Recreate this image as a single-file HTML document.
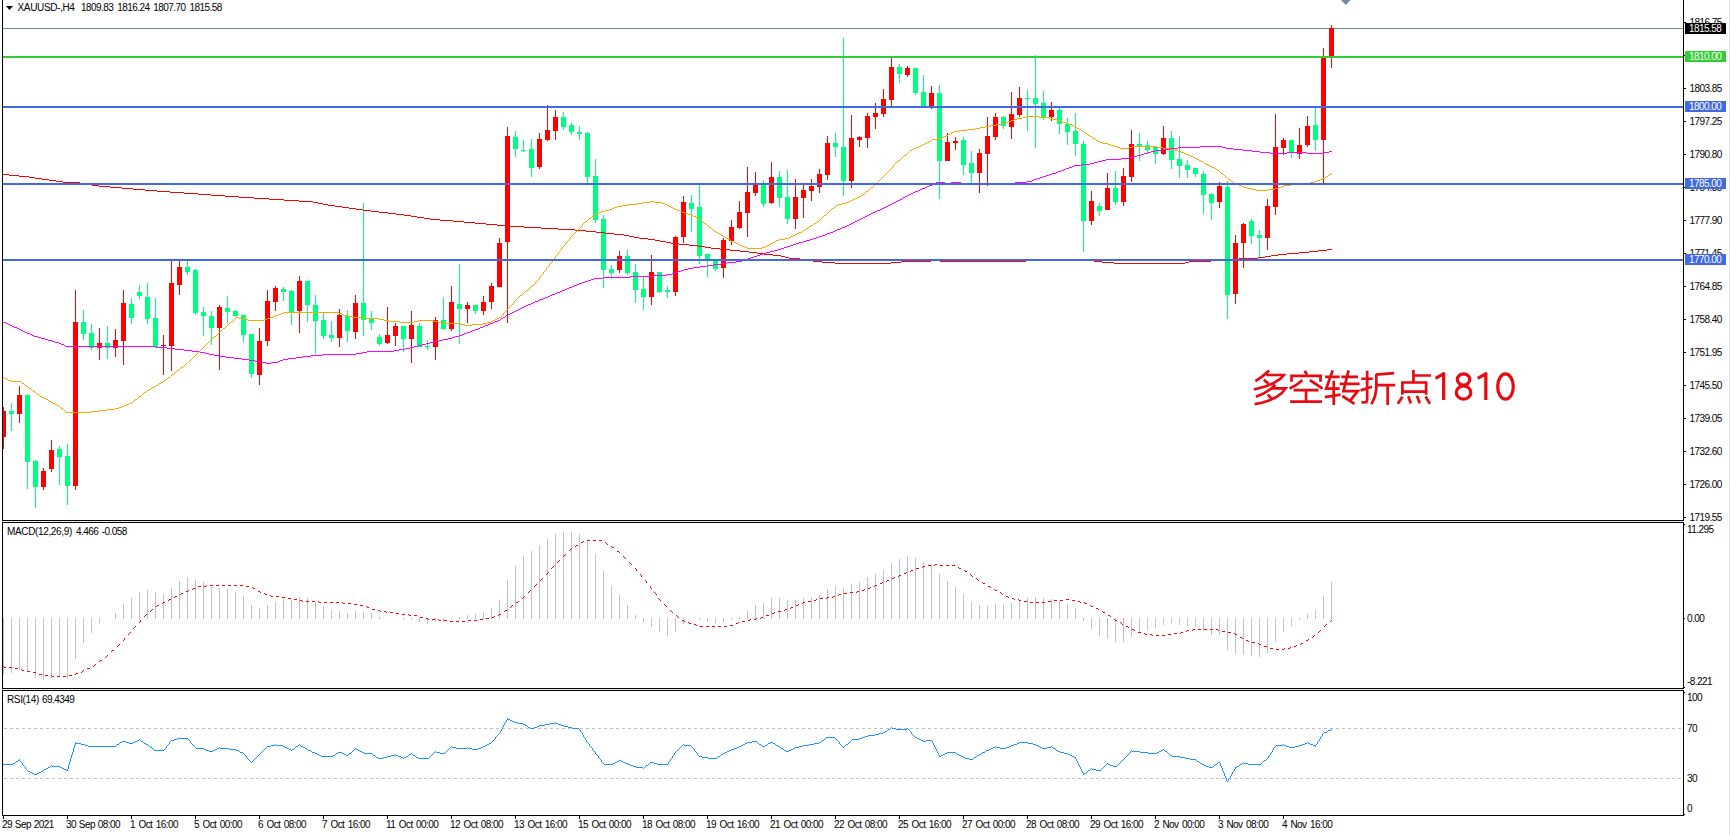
<!DOCTYPE html><html><head><meta charset="utf-8"><title>XAUUSD H4</title><style>
html,body{margin:0;padding:0;background:#fff;}body{width:1731px;height:835px;position:relative;overflow:hidden;font-family:"Liberation Sans",sans-serif;font-size:10px;letter-spacing:-0.55px;word-spacing:1.2px;color:#000;}
.t{position:absolute;white-space:nowrap;line-height:11px;height:11px;}
.lb{position:absolute;left:1685px;width:41px;height:11px;line-height:11px;color:#fff;white-space:nowrap;}
.lb span{position:absolute;left:4px;top:0;}
</style></head><body>
<svg width="1731" height="835" viewBox="0 0 1731 835" shape-rendering="crispEdges" style="position:absolute;left:0;top:0"><rect x="3" y="28" width="1680" height="1" fill="#778899"/><clipPath id="c"><rect x="3" y="0" width="1680" height="520"/></clipPath><g clip-path="url(#c)"><path d="M3 407h1v42h-1zM1 411h5v26h-5zM19 386h1v37h-1zM17 395h5v19h-5zM43 468h1v22h-1zM41 471h5v16h-5zM51 440h1v32h-1zM49 450h5v19h-5zM75 290h1v200h-1zM73 322h5v164h-5zM99 328h1v32h-1zM97 343h5v5h-5zM115 329h1v28h-1zM113 340h5v8h-5zM123 290h1v75h-1zM121 303h5v38h-5zM163 335h1v40h-1zM161 345h5v1h-5zM171 261h1v110h-1zM169 283h5v63h-5zM179 261h1v34h-1zM177 267h5v18h-5zM219 305h1v65h-1zM217 307h5v21h-5zM259 328h1v57h-1zM257 341h5v34h-5zM267 290h1v56h-1zM265 301h5v40h-5zM275 286h1v25h-1zM273 288h5v14h-5zM299 276h1v57h-1zM297 281h5v30h-5zM339 309h1v38h-1zM337 315h5v23h-5zM355 295h1v44h-1zM353 303h5v29h-5zM387 307h1v37h-1zM385 335h5v8h-5zM395 323h1v23h-1zM393 326h5v10h-5zM411 311h1v52h-1zM409 325h5v14h-5zM435 317h1v43h-1zM433 320h5v27h-5zM451 286h1v45h-1zM449 302h5v27h-5zM467 302h1v21h-1zM465 305h5v4h-5zM483 296h1v19h-1zM481 302h5v9h-5zM491 283h1v26h-1zM489 286h5v16h-5zM499 238h1v49h-1zM497 243h5v44h-5zM507 127h1v196h-1zM505 136h5v106h-5zM539 133h1v36h-1zM537 139h5v28h-5zM547 105h1v36h-1zM545 130h5v10h-5zM555 110h1v30h-1zM553 117h5v14h-5zM619 251h1v22h-1zM617 256h5v14h-5zM651 255h1v50h-1zM649 272h5v25h-5zM675 236h1v60h-1zM673 237h5v55h-5zM683 196h1v47h-1zM681 202h5v35h-5zM723 238h1v40h-1zM721 240h5v28h-5zM731 220h1v25h-1zM729 227h5v14h-5zM739 201h1v28h-1zM737 212h5v16h-5zM747 167h1v70h-1zM745 192h5v21h-5zM755 172h1v24h-1zM753 184h5v9h-5zM771 162h1v42h-1zM769 177h5v26h-5zM795 179h1v50h-1zM793 197h5v22h-5zM803 185h1v33h-1zM801 190h5v8h-5zM811 179h1v22h-1zM809 186h5v5h-5zM819 169h1v24h-1zM817 174h5v13h-5zM827 136h1v44h-1zM825 143h5v32h-5zM851 115h1v73h-1zM849 138h5v43h-5zM859 136h1v11h-1zM857 137h5v3h-5zM867 113h1v35h-1zM865 116h5v22h-5zM875 103h1v26h-1zM873 113h5v4h-5zM883 89h1v28h-1zM881 99h5v15h-5zM891 58h1v48h-1zM889 67h5v33h-5zM907 66h1v11h-1zM905 68h5v7h-5zM931 86h1v23h-1zM929 93h5v14h-5zM947 133h1v28h-1zM945 142h5v19h-5zM955 137h1v13h-1zM953 141h5v2h-5zM979 149h1v44h-1zM977 153h5v20h-5zM987 117h1v69h-1zM985 136h5v18h-5zM995 113h1v27h-1zM993 117h5v20h-5zM1011 92h1v47h-1zM1009 114h5v13h-5zM1019 87h1v30h-1zM1017 98h5v17h-5zM1051 102h1v19h-1zM1049 110h5v7h-5zM1091 191h1v34h-1zM1089 201h5v20h-5zM1107 173h1v37h-1zM1105 188h5v22h-5zM1123 168h1v38h-1zM1121 176h5v26h-5zM1131 130h1v52h-1zM1129 144h5v33h-5zM1163 126h1v29h-1zM1161 138h5v16h-5zM1219 182h1v26h-1zM1217 186h5v16h-5zM1235 235h1v69h-1zM1233 243h5v51h-5zM1243 223h1v45h-1zM1241 224h5v19h-5zM1267 199h1v51h-1zM1265 206h5v32h-5zM1275 114h1v101h-1zM1273 147h5v60h-5zM1283 138h1v17h-1zM1281 140h5v8h-5zM1299 128h1v31h-1zM1297 145h5v9h-5zM1307 116h1v31h-1zM1305 126h5v19h-5zM1323 48h1v135h-1zM1321 58h5v82h-5zM1331 25h1v43h-1zM1329 28h5v28h-5z" fill="#ff0000"/><path d="M11 403h1v28h-1zM9 411h5v3h-5zM27 395h1v94h-1zM25 395h5v67h-5zM35 460h1v48h-1zM33 461h5v26h-5zM59 446h1v39h-1zM57 449h5v8h-5zM67 444h1v61h-1zM65 456h5v30h-5zM83 310h1v30h-1zM81 322h5v12h-5zM91 324h1v26h-1zM89 333h5v15h-5zM107 326h1v33h-1zM105 343h5v5h-5zM131 298h1v26h-1zM129 304h5v14h-5zM139 285h1v14h-1zM137 292h5v4h-5zM147 283h1v41h-1zM145 297h5v22h-5zM155 298h1v50h-1zM153 318h5v29h-5zM187 261h1v14h-1zM185 267h5v5h-5zM195 269h1v46h-1zM193 270h5v43h-5zM203 307h1v29h-1zM201 312h5v4h-5zM211 311h1v34h-1zM209 316h5v12h-5zM227 296h1v27h-1zM225 308h5v4h-5zM235 310h1v7h-1zM233 311h5v5h-5zM243 315h1v27h-1zM241 315h5v20h-5zM251 334h1v44h-1zM249 334h5v40h-5zM283 287h1v14h-1zM281 289h5v3h-5zM291 290h1v35h-1zM289 291h5v21h-5zM307 281h1v41h-1zM305 281h5v24h-5zM315 295h1v59h-1zM313 305h5v16h-5zM323 312h1v27h-1zM321 320h5v16h-5zM331 321h1v21h-1zM329 335h5v3h-5zM347 310h1v32h-1zM345 316h5v15h-5zM363 203h1v133h-1zM361 303h5v17h-5zM371 311h1v19h-1zM369 319h5v4h-5zM379 334h1v12h-1zM377 337h5v7h-5zM403 326h1v26h-1zM401 326h5v13h-5zM419 323h1v24h-1zM417 326h5v21h-5zM427 340h1v10h-1zM425 346h5v1h-5zM443 298h1v32h-1zM441 320h5v9h-5zM459 264h1v80h-1zM457 304h5v5h-5zM475 305h1v9h-1zM473 305h5v6h-5zM515 131h1v26h-1zM513 137h5v12h-5zM523 140h1v12h-1zM521 150h5v1h-5zM531 139h1v38h-1zM529 149h5v19h-5zM563 112h1v18h-1zM561 117h5v10h-5zM571 123h1v12h-1zM569 125h5v7h-5zM579 126h1v14h-1zM577 132h5v2h-5zM587 132h1v51h-1zM585 133h5v44h-5zM595 159h1v64h-1zM593 176h5v44h-5zM603 215h1v73h-1zM601 219h5v51h-5zM611 265h1v14h-1zM609 269h5v4h-5zM627 250h1v25h-1zM625 256h5v17h-5zM635 264h1v39h-1zM633 272h5v18h-5zM643 277h1v33h-1zM641 289h5v8h-5zM659 272h1v21h-1zM657 272h5v20h-5zM667 286h1v12h-1zM665 290h5v2h-5zM691 195h1v37h-1zM689 203h5v6h-5zM699 185h1v79h-1zM697 207h5v49h-5zM707 254h1v23h-1zM705 254h5v7h-5zM715 259h1v12h-1zM713 260h5v9h-5zM763 180h1v27h-1zM761 184h5v20h-5zM779 171h1v36h-1zM777 177h5v21h-5zM787 170h1v54h-1zM785 197h5v22h-5zM835 133h1v24h-1zM833 143h5v4h-5zM843 38h1v158h-1zM841 147h5v34h-5zM899 64h1v19h-1zM897 67h5v7h-5zM915 68h1v27h-1zM913 68h5v25h-5zM923 75h1v32h-1zM921 92h5v14h-5zM939 85h1v114h-1zM937 93h5v68h-5zM963 137h1v38h-1zM961 140h5v25h-5zM971 151h1v32h-1zM969 163h5v10h-5zM1003 116h1v13h-1zM1001 117h5v9h-5zM1027 90h1v41h-1zM1025 98h5v1h-5zM1035 55h1v93h-1zM1033 98h5v6h-5zM1043 91h1v29h-1zM1041 103h5v15h-5zM1059 108h1v26h-1zM1057 110h5v14h-5zM1067 118h1v27h-1zM1065 124h5v8h-5zM1075 113h1v43h-1zM1073 131h5v13h-5zM1083 141h1v111h-1zM1081 144h5v77h-5zM1099 203h1v13h-1zM1097 206h5v5h-5zM1115 171h1v34h-1zM1113 188h5v14h-5zM1139 133h1v28h-1zM1137 144h5v3h-5zM1147 141h1v12h-1zM1145 145h5v5h-5zM1155 146h1v18h-1zM1153 147h5v7h-5zM1171 131h1v38h-1zM1169 138h5v22h-5zM1179 136h1v42h-1zM1177 159h5v7h-5zM1187 160h1v18h-1zM1185 165h5v5h-5zM1195 168h1v9h-1zM1193 168h5v6h-5zM1203 171h1v43h-1zM1201 174h5v21h-5zM1211 193h1v27h-1zM1209 194h5v9h-5zM1227 181h1v138h-1zM1225 187h5v108h-5zM1251 219h1v25h-1zM1249 221h5v15h-5zM1259 230h1v27h-1zM1257 235h5v3h-5zM1291 140h1v18h-1zM1289 140h5v12h-5zM1315 108h1v43h-1zM1313 125h5v15h-5z" fill="#00ff7f"/></g><path d="M269 199h15v1h-15zM813 261h9v1h-9zM901 261h30v1h-30zM940 261h86v1h-86zM1094 261h8v1h-8zM1189 261h22v1h-22zM835 263h56v1h-56zM1114 263h71v1h-71zM806 260h7v1h-7zM931 260h9v1h-9zM1026 260h68v1h-68zM1211 260h15v1h-15zM720 249h10v1h-10zM1327 249h5v1h-5zM605 233h9v1h-9zM507 226h17v1h-17zM417 217h7v1h-7zM157 191h13v1h-13zM764 254h9v1h-9zM1278 254h9v1h-9zM740 251h9v1h-9zM1309 251h9v1h-9zM110 187h12v1h-12zM63 182h17v1h-17zM586 231h10v1h-10zM453 221h11v1h-11zM773 255h8v1h-8zM1271 255h7v1h-7zM9 175h10v1h-10zM639 238h9v1h-9zM800 259h6v1h-6zM1226 259h13v1h-13zM486 224h11v1h-11zM689 245h9v1h-9zM335 206h7v1h-7zM42 179h7v1h-7zM225 196h14v1h-14zM757 253h7v1h-7zM1287 253h12v1h-12zM356 209h7v1h-7zM254 198h15v1h-15zM284 200h15v1h-15zM497 225h10v1h-10zM388 213h8v1h-8zM99 186h11v1h-11zM575 230h11v1h-11zM396 214h8v1h-8zM440 220h13v1h-13zM749 252h8v1h-8zM1299 252h10v1h-10zM328 205h7v1h-7zM424 218h6v1h-6zM313 202h5v1h-5zM211 195h14v1h-14zM558 229h17v1h-17zM711 248h9v1h-9zM596 232h9v1h-9zM198 194h13v1h-13zM648 239h7v1h-7zM3 174h6v1h-6zM133 189h12v1h-12zM822 262h13v1h-13zM891 262h10v1h-10zM1102 262h12v1h-12zM1185 262h4v1h-4zM239 197h15v1h-15zM145 190h12v1h-12zM411 216h6v1h-6zM299 201h14v1h-14zM705 247h6v1h-6zM541 228h17v1h-17zM349 208h7v1h-7zM634 237h5v1h-5zM430 219h10v1h-10zM184 193h14v1h-14zM730 250h10v1h-10zM1318 250h9v1h-9zM781 256h4v1h-4zM1265 256h6v1h-6zM789 258h11v1h-11zM1239 258h19v1h-19zM92 185h7v1h-7zM671 243h8v1h-8zM170 192h14v1h-14zM122 188h11v1h-11zM524 227h17v1h-17zM666 242h5v1h-5zM19 176h10v1h-10zM56 181h7v1h-7zM785 257h4v1h-4zM1258 257h7v1h-7zM624 235h5v1h-5zM323 204h5v1h-5zM464 222h11v1h-11zM371 211h8v1h-8zM80 183h6v1h-6zM404 215h7v1h-7zM475 223h11v1h-11zM342 207h7v1h-7zM86 184h6v1h-6zM614 234h10v1h-10zM660 241h6v1h-6zM49 180h7v1h-7zM363 210h8v1h-8zM679 244h10v1h-10zM35 178h7v1h-7zM318 203h5v1h-5zM379 212h9v1h-9zM655 240h5v1h-5zM698 246h7v1h-7zM29 177h6v1h-6zM629 236h5v1h-5z" fill="#ff0000"/><path d="M886 206h2v1h-2zM495 321h3v1h-3zM175 349h9v1h-9zM399 349h6v1h-6zM34 336h4v1h-4zM455 336h4v1h-4zM27 333h3v1h-3zM464 333h3v1h-3zM1027 181h5v1h-5zM934 183h2v1h-2zM945 183h6v1h-6zM961 183h54v1h-54zM882 208h2v1h-2zM6 323h2v1h-2zM490 323h3v1h-3zM192 351h8v1h-8zM367 351h27v1h-27zM32 335h2v1h-2zM459 335h3v1h-3zM1081 164h9v1h-9zM630 276h24v1h-24zM65 346h91v1h-91zM414 346h4v1h-4zM514 311h2v1h-2zM61 344h3v1h-3zM422 344h4v1h-4zM167 348h8v1h-8zM405 348h5v1h-5zM1178 147h22v1h-22zM1222 147h4v1h-4zM678 271h3v1h-3zM510 313h2v1h-2zM41 338h4v1h-4zM448 338h4v1h-4zM214 355h5v1h-5zM311 355h12v1h-12zM925 187h2v1h-2zM533 302h2v1h-2zM778 249h3v1h-3zM1106 159h15v1h-15zM1144 153h4v1h-4zM1270 153h17v1h-17zM1307 153h17v1h-17zM591 279h3v1h-3zM920 189h2v1h-2zM528 304h3v1h-3zM560 291h2v1h-2zM835 230h2v1h-2zM667 274h5v1h-5zM603 277h27v1h-27zM209 354h5v1h-5zM323 354h33v1h-33zM766 252h4v1h-4zM1094 162h4v1h-4zM693 267h7v1h-7zM205 353h4v1h-4zM356 353h6v1h-6zM855 221h2v1h-2zM1058 171h3v1h-3zM825 234h2v1h-2zM681 270h3v1h-3zM754 256h3v1h-3zM12 326h2v1h-2zM483 326h2v1h-2zM714 264h7v1h-7zM594 278h9v1h-9zM707 265h7v1h-7zM226 357h8v1h-8zM296 357h7v1h-7zM242 359h7v1h-7zM283 359h5v1h-5zM21 330h2v1h-2zM472 330h3v1h-3zM184 350h8v1h-8zM394 350h5v1h-5zM503 317h2v1h-2zM1151 151h4v1h-4zM1252 151h8v1h-8zM1329 151h3v1h-3zM1133 156h4v1h-4zM582 282h3v1h-3zM552 294h3v1h-3zM234 358h8v1h-8zM288 358h8v1h-8zM1155 150h7v1h-7zM1243 150h9v1h-9zM30 334h2v1h-2zM462 334h2v1h-2zM757 255h3v1h-3zM23 331h2v1h-2zM470 331h2v1h-2zM936 182h9v1h-9zM951 182h10v1h-10zM1015 182h12v1h-12zM260 362h6v1h-6zM271 362h7v1h-7zM156 347h11v1h-11zM410 347h4v1h-4zM1049 174h3v1h-3zM572 286h2v1h-2zM816 237h3v1h-3zM842 227h3v1h-3zM745 259h3v1h-3zM810 239h3v1h-3zM64 345h1v1h-1zM418 345h4v1h-4zM1037 178h3v1h-3zM1169 148h9v1h-9zM1226 148h7v1h-7zM727 262h9v1h-9zM799 242h4v1h-4zM1148 152h3v1h-3zM1260 152h10v1h-10zM1287 152h20v1h-20zM1324 152h5v1h-5zM574 285h3v1h-3zM929 185h3v1h-3zM538 300h2v1h-2zM569 287h3v1h-3zM845 226h2v1h-2zM255 361h5v1h-5zM278 361h2v1h-2zM863 217h2v1h-2zM1066 168h3v1h-3zM790 245h3v1h-3zM1069 167h3v1h-3zM52 341h3v1h-3zM434 341h5v1h-5zM700 266h7v1h-7zM851 223h2v1h-2zM1200 146h22v1h-22zM875 211h2v1h-2zM781 248h3v1h-3zM871 213h2v1h-2zM894 202h2v1h-2zM890 204h2v1h-2zM913 192h2v1h-2zM522 307h2v1h-2zM249 360h6v1h-6zM280 360h3v1h-3zM909 194h2v1h-2zM518 309h2v1h-2zM1121 158h8v1h-8zM548 296h2v1h-2zM822 235h3v1h-3zM219 356h7v1h-7zM303 356h8v1h-8zM14 327h3v1h-3zM480 327h3v1h-3zM8 324h2v1h-2zM488 324h2v1h-2zM266 363h5v1h-5zM742 260h3v1h-3zM55 342h4v1h-4zM430 342h4v1h-4zM1137 155h4v1h-4zM1034 179h3v1h-3zM501 318h2v1h-2zM540 299h3v1h-3zM813 238h3v1h-3zM1040 177h3v1h-3zM48 340h4v1h-4zM439 340h4v1h-4zM830 232h3v1h-3zM884 207h2v1h-2zM3 322h3v1h-3zM493 322h2v1h-2zM654 275h13v1h-13zM1090 163h4v1h-4zM903 197h2v1h-2zM512 312h2v1h-2zM675 272h3v1h-3zM200 352h5v1h-5zM362 352h5v1h-5zM774 250h4v1h-4zM562 290h3v1h-3zM588 280h3v1h-3zM918 190h2v1h-2zM557 292h3v1h-3zM833 231h2v1h-2zM763 253h3v1h-3zM688 268h5v1h-5zM59 343h2v1h-2zM426 343h4v1h-4zM853 222h2v1h-2zM1162 149h7v1h-7zM1233 149h10v1h-10zM1043 176h3v1h-3zM1141 154h3v1h-3zM38 337h3v1h-3zM452 337h3v1h-3zM579 283h3v1h-3zM1046 175h3v1h-3zM840 228h2v1h-2zM806 240h4v1h-4zM498 320h2v1h-2zM932 184h2v1h-2zM927 186h2v1h-2zM535 301h3v1h-3zM1102 160h4v1h-4zM45 339h3v1h-3zM443 339h5v1h-5zM1064 169h2v1h-2zM861 218h2v1h-2zM880 209h2v1h-2zM25 332h2v1h-2zM467 332h3v1h-3zM17 328h2v1h-2zM478 328h2v1h-2zM787 246h3v1h-3zM19 329h2v1h-2zM475 329h3v1h-3zM10 325h2v1h-2zM485 325h3v1h-3zM1074 165h7v1h-7zM900 199h2v1h-2zM508 314h2v1h-2zM1056 172h2v1h-2zM736 261h6v1h-6zM1129 157h4v1h-4zM888 205h2v1h-2zM550 295h2v1h-2zM819 236h3v1h-3zM577 284h2v1h-2zM516 310h2v1h-2zM796 243h3v1h-3zM567 288h2v1h-2zM684 269h4v1h-4zM877 210h3v1h-3zM896 201h2v1h-2zM506 315h2v1h-2zM585 281h3v1h-3zM915 191h3v1h-3zM524 306h2v1h-2zM760 254h3v1h-3zM898 200h2v1h-2zM869 214h2v1h-2zM545 297h3v1h-3zM907 195h2v1h-2zM751 257h3v1h-3zM1032 180h2v1h-2zM500 319h1v1h-1zM1098 161h4v1h-4zM793 244h3v1h-3zM565 289h2v1h-2zM859 219h2v1h-2zM784 247h3v1h-3zM555 293h2v1h-2zM1052 173h4v1h-4zM721 263h6v1h-6zM847 225h2v1h-2zM543 298h2v1h-2zM1072 166h2v1h-2zM837 229h3v1h-3zM770 251h4v1h-4zM526 305h2v1h-2zM827 233h3v1h-3zM672 273h3v1h-3zM867 215h2v1h-2zM849 224h2v1h-2zM905 196h2v1h-2zM748 258h3v1h-3zM531 303h2v1h-2zM857 220h2v1h-2zM902 198h1v1h-1zM865 216h2v1h-2zM922 188h3v1h-3zM505 316h1v1h-1zM892 203h2v1h-2zM1061 170h3v1h-3zM520 308h2v1h-2zM803 241h3v1h-3zM873 212h2v1h-2zM911 193h2v1h-2z" fill="#ff00ff"/><path d="M66 412h25v1h-25zM230 322h1v1h-1zM400 322h14v1h-14zM438 322h4v1h-4zM487 322h4v1h-4zM869 189h1v1h-1zM1252 189h4v1h-4zM1268 189h7v1h-7zM916 147h3v1h-3zM1117 147h3v1h-3zM1129 147h3v1h-3zM1157 147h6v1h-6zM643 202h7v1h-7zM655 202h7v1h-7zM846 202h3v1h-3zM990 125h6v1h-6zM1072 125h2v1h-2zM229 323h1v1h-1zM442 323h18v1h-18zM483 323h4v1h-4zM564 245h1v1h-1zM740 245h2v1h-2zM767 245h2v1h-2zM181 367h2v1h-2zM44 398h2v1h-2zM137 398h1v1h-1zM37 394h2v1h-2zM142 394h1v1h-1zM508 308h1v1h-1zM566 242h1v1h-1zM734 242h2v1h-2zM773 242h2v1h-2zM877 182h1v1h-1zM1233 182h1v1h-1zM1310 182h4v1h-4zM985 126h5v1h-5zM1074 126h2v1h-2zM46 399h2v1h-2zM135 399h2v1h-2zM51 402h2v1h-2zM132 402h1v1h-1zM1002 123h4v1h-4zM1066 123h3v1h-3zM11 381h10v1h-10zM163 381h1v1h-1zM278 314h3v1h-3zM342 314h2v1h-2zM503 314h1v1h-1zM234 319h1v1h-1zM243 319h5v1h-5zM264 319h3v1h-3zM379 319h5v1h-5zM495 319h2v1h-2zM65 411h1v1h-1zM91 411h8v1h-8zM236 317h3v1h-3zM270 317h3v1h-3zM352 317h13v1h-13zM499 317h2v1h-2zM612 208h2v1h-2zM673 208h2v1h-2zM832 208h2v1h-2zM195 355h1v1h-1zM628 204h9v1h-9zM665 204h2v1h-2zM838 204h4v1h-4zM582 224h1v1h-1zM706 224h1v1h-1zM813 224h1v1h-1zM4 378h3v1h-3zM167 378h1v1h-1zM870 188h1v1h-1zM1247 188h5v1h-5zM1275 188h3v1h-3zM581 226h1v1h-1zM708 226h1v1h-1zM809 226h2v1h-2zM63 409h1v1h-1zM107 409h8v1h-8zM925 143h2v1h-2zM1103 143h5v1h-5zM40 396h2v1h-2zM139 396h2v1h-2zM873 186h1v1h-1zM1241 186h3v1h-3zM1281 186h3v1h-3zM931 140h1v1h-1zM1096 140h2v1h-2zM855 198h2v1h-2zM569 239h1v1h-1zM728 239h2v1h-2zM779 239h6v1h-6zM878 181h1v1h-1zM1231 181h2v1h-2zM1314 181h3v1h-3zM33 391h2v1h-2zM146 391h1v1h-1zM572 235h1v1h-1zM721 235h2v1h-2zM793 235h2v1h-2zM202 348h1v1h-1zM901 158h1v1h-1zM1195 158h2v1h-2zM906 154h1v1h-1zM1186 154h3v1h-3zM281 313h3v1h-3zM339 313h3v1h-3zM503 313h1v1h-1zM1014 119h3v1h-3zM1053 119h4v1h-4zM909 151h1v1h-1zM1178 151h3v1h-3zM890 169h1v1h-1zM1216 169h2v1h-2zM518 297h1v1h-1zM1022 117h4v1h-4zM1039 117h10v1h-10zM235 318h1v1h-1zM239 318h4v1h-4zM267 318h3v1h-3zM365 318h14v1h-14zM497 318h2v1h-2zM513 303h1v1h-1zM553 259h1v1h-1zM959 130h8v1h-8zM1081 130h1v1h-1zM61 408h2v1h-2zM115 408h4v1h-4zM529 288h1v1h-1zM952 132h2v1h-2zM1084 132h1v1h-1zM1026 116h13v1h-13zM233 320h1v1h-1zM248 320h16v1h-16zM384 320h5v1h-5zM418 320h16v1h-16zM493 320h2v1h-2zM950 133h2v1h-2zM1085 133h2v1h-2zM55 404h2v1h-2zM127 404h2v1h-2zM28 387h1v1h-1zM152 387h2v1h-2zM589 218h2v1h-2zM698 218h1v1h-1zM821 218h1v1h-1zM284 312h55v1h-55zM504 312h1v1h-1zM29 388h2v1h-2zM151 388h1v1h-1zM561 248h1v1h-1zM747 248h15v1h-15zM587 220h1v1h-1zM701 220h1v1h-1zM819 220h1v1h-1zM57 405h2v1h-2zM124 405h3v1h-3zM556 255h1v1h-1zM541 275h1v1h-1zM216 335h1v1h-1zM273 316h2v1h-2zM348 316h4v1h-4zM501 316h1v1h-1zM912 149h2v1h-2zM1122 149h1v1h-1zM1169 149h6v1h-6zM904 155h2v1h-2zM1189 155h2v1h-2zM552 261h1v1h-1zM996 124h6v1h-6zM1069 124h3v1h-3zM880 179h1v1h-1zM1228 179h2v1h-2zM1320 179h3v1h-3zM862 194h2v1h-2zM565 244h1v1h-1zM738 244h2v1h-2zM769 244h2v1h-2zM49 401h2v1h-2zM133 401h1v1h-1zM42 397h2v1h-2zM138 397h1v1h-1zM584 222h2v1h-2zM703 222h1v1h-1zM816 222h1v1h-1zM567 241h1v1h-1zM731 241h3v1h-3zM775 241h1v1h-1zM967 129h8v1h-8zM1079 129h2v1h-2zM231 321h2v1h-2zM389 321h11v1h-11zM414 321h4v1h-4zM434 321h4v1h-4zM491 321h2v1h-2zM223 328h2v1h-2zM919 146h2v1h-2zM1114 146h3v1h-3zM1132 146h25v1h-25zM577 230h1v1h-1zM713 230h1v1h-1zM803 230h2v1h-2zM24 384h1v1h-1zM158 384h1v1h-1zM637 203h6v1h-6zM662 203h3v1h-3zM842 203h4v1h-4zM1006 122h2v1h-2zM1063 122h3v1h-3zM605 210h4v1h-4zM677 210h3v1h-3zM830 210h1v1h-1zM575 232h1v1h-1zM716 232h2v1h-2zM799 232h3v1h-3zM942 137h2v1h-2zM1092 137h1v1h-1zM1017 118h5v1h-5zM1049 118h4v1h-4zM871 187h2v1h-2zM1244 187h3v1h-3zM1278 187h3v1h-3zM614 207h3v1h-3zM671 207h2v1h-2zM834 207h1v1h-1zM64 410h1v1h-1zM99 410h8v1h-8zM570 238h1v1h-1zM726 238h2v1h-2zM785 238h4v1h-4zM932 139h7v1h-7zM1095 139h1v1h-1zM179 369h1v1h-1zM25 385h1v1h-1zM156 385h2v1h-2zM574 233h1v1h-1zM718 233h2v1h-2zM797 233h2v1h-2zM910 150h2v1h-2zM1175 150h3v1h-3zM597 213h2v1h-2zM685 213h3v1h-3zM827 213h1v1h-1zM228 324h1v1h-1zM460 324h5v1h-5zM472 324h11v1h-11zM884 175h1v1h-1zM1224 175h1v1h-1zM1328 175h1v1h-1zM594 215h1v1h-1zM691 215h2v1h-2zM824 215h2v1h-2zM944 136h2v1h-2zM1090 136h2v1h-2zM60 407h1v1h-1zM119 407h3v1h-3zM507 309h1v1h-1zM851 200h2v1h-2zM26 386h2v1h-2zM154 386h2v1h-2zM591 217h1v1h-1zM696 217h2v1h-2zM822 217h1v1h-1zM896 162h1v1h-1zM1203 162h1v1h-1zM595 214h2v1h-2zM688 214h3v1h-3zM826 214h1v1h-1zM868 190h1v1h-1zM1256 190h12v1h-12zM891 168h1v1h-1zM1214 168h2v1h-2zM519 296h1v1h-1zM227 325h1v1h-1zM465 325h7v1h-7zM194 356h1v1h-1zM875 184h1v1h-1zM1236 184h3v1h-3zM1291 184h9v1h-9zM7 379h1v1h-1zM166 379h1v1h-1zM565 243h1v1h-1zM736 243h2v1h-2zM771 243h2v1h-2zM526 290h2v1h-2zM48 400h1v1h-1zM134 400h1v1h-1zM546 268h1v1h-1zM921 145h2v1h-2zM1111 145h3v1h-3zM580 227h1v1h-1zM709 227h2v1h-2zM808 227h1v1h-1zM22 383h2v1h-2zM159 383h2v1h-2zM1011 120h3v1h-3zM1057 120h4v1h-4zM876 183h1v1h-1zM1234 183h2v1h-2zM1300 183h10v1h-10zM588 219h1v1h-1zM699 219h2v1h-2zM820 219h1v1h-1zM557 254h1v1h-1zM174 373h1v1h-1zM213 337h1v1h-1zM573 234h1v1h-1zM720 234h1v1h-1zM795 234h2v1h-2zM617 206h5v1h-5zM669 206h2v1h-2zM835 206h1v1h-1zM534 284h1v1h-1zM929 141h2v1h-2zM1098 141h2v1h-2zM859 196h2v1h-2zM927 142h2v1h-2zM1100 142h3v1h-3zM583 223h1v1h-1zM704 223h2v1h-2zM814 223h2v1h-2zM571 236h1v1h-1zM723 236h2v1h-2zM791 236h2v1h-2zM36 393h1v1h-1zM143 393h1v1h-1zM545 270h1v1h-1zM570 237h1v1h-1zM725 237h1v1h-1zM789 237h2v1h-2zM601 211h4v1h-4zM680 211h2v1h-2zM829 211h1v1h-1zM540 276h1v1h-1zM214 336h2v1h-2zM172 374h2v1h-2zM914 148h2v1h-2zM1120 148h2v1h-2zM1123 148h6v1h-6zM1163 148h6v1h-6zM532 285h2v1h-2zM609 209h3v1h-3zM675 209h2v1h-2zM831 209h1v1h-1zM275 315h3v1h-3zM344 315h4v1h-4zM502 315h1v1h-1zM948 134h2v1h-2zM1087 134h1v1h-1zM946 135h2v1h-2zM1088 135h2v1h-2zM31 389h1v1h-1zM149 389h2v1h-2zM592 216h2v1h-2zM693 216h3v1h-3zM823 216h1v1h-1zM578 229h1v1h-1zM712 229h1v1h-1zM805 229h1v1h-1zM32 390h1v1h-1zM147 390h2v1h-2zM586 221h1v1h-1zM702 221h1v1h-1zM817 221h2v1h-2zM885 174h1v1h-1zM1223 174h1v1h-1zM1329 174h2v1h-2zM39 395h1v1h-1zM141 395h1v1h-1zM582 225h1v1h-1zM707 225h1v1h-1zM811 225h2v1h-2zM53 403h2v1h-2zM129 403h3v1h-3zM568 240h1v1h-1zM730 240h1v1h-1zM776 240h3v1h-3zM954 131h5v1h-5zM1082 131h2v1h-2zM853 199h2v1h-2zM1008 121h3v1h-3zM1061 121h2v1h-2zM622 205h6v1h-6zM667 205h2v1h-2zM836 205h2v1h-2zM883 176h1v1h-1zM1225 176h1v1h-1zM1326 176h2v1h-2zM207 343h1v1h-1zM562 247h1v1h-1zM745 247h2v1h-2zM762 247h3v1h-3zM879 180h1v1h-1zM1230 180h1v1h-1zM1317 180h3v1h-3zM895 163h1v1h-1zM1204 163h2v1h-2zM975 128h5v1h-5zM1077 128h2v1h-2zM171 375h1v1h-1zM902 157h1v1h-1zM1193 157h2v1h-2zM550 263h1v1h-1zM205 345h1v1h-1zM939 138h3v1h-3zM1093 138h2v1h-2zM525 291h1v1h-1zM221 330h1v1h-1zM561 249h1v1h-1zM908 152h1v1h-1zM1181 152h3v1h-3zM599 212h2v1h-2zM682 212h3v1h-3zM828 212h1v1h-1zM538 279h1v1h-1zM650 201h5v1h-5zM849 201h2v1h-2zM549 265h1v1h-1zM544 271h1v1h-1zM177 370h2v1h-2zM866 191h2v1h-2zM188 362h1v1h-1zM874 185h1v1h-1zM1239 185h2v1h-2zM1284 185h7v1h-7zM888 171h1v1h-1zM1219 171h1v1h-1zM563 246h1v1h-1zM742 246h3v1h-3zM765 246h2v1h-2zM887 172h1v1h-1zM1220 172h1v1h-1zM980 127h5v1h-5zM1076 127h1v1h-1zM892 167h1v1h-1zM1212 167h2v1h-2zM505 311h1v1h-1zM889 170h1v1h-1zM1218 170h1v1h-1zM59 406h1v1h-1zM122 406h2v1h-2zM517 298h1v1h-1zM192 358h1v1h-1zM512 304h1v1h-1zM8 380h3v1h-3zM164 380h2v1h-2zM894 164h1v1h-1zM1206 164h2v1h-2zM882 177h1v1h-1zM1226 177h1v1h-1zM1325 177h1v1h-1zM898 160h2v1h-2zM1199 160h2v1h-2zM576 231h1v1h-1zM714 231h2v1h-2zM802 231h1v1h-1zM199 351h1v1h-1zM555 256h1v1h-1zM35 392h1v1h-1zM144 392h2v1h-2zM903 156h1v1h-1zM1191 156h2v1h-2zM206 344h1v1h-1zM546 269h1v1h-1zM579 228h1v1h-1zM711 228h1v1h-1zM806 228h2v1h-2zM543 272h1v1h-1zM170 376h1v1h-1zM554 258h1v1h-1zM549 264h1v1h-1zM530 287h1v1h-1zM220 331h1v1h-1zM537 280h1v1h-1zM881 178h1v1h-1zM1227 178h1v1h-1zM1323 178h2v1h-2zM193 357h1v1h-1zM21 382h1v1h-1zM161 382h2v1h-2zM893 165h1v1h-1zM1208 165h2v1h-2zM516 299h1v1h-1zM191 359h1v1h-1zM511 305h1v1h-1zM886 173h1v1h-1zM1221 173h2v1h-2zM1331 173h1v1h-1zM198 352h1v1h-1zM559 251h1v1h-1zM893 166h1v1h-1zM1210 166h2v1h-2zM558 253h1v1h-1zM923 144h2v1h-2zM1108 144h3v1h-3zM186 363h1v1h-1zM225 327h1v1h-1zM900 159h1v1h-1zM1197 159h2v1h-2zM184 365h1v1h-1zM510 306h1v1h-1zM200 350h1v1h-1zM204 346h1v1h-1zM524 292h1v1h-1zM555 257h1v1h-1zM211 339h1v1h-1zM3 377h1v1h-1zM168 377h2v1h-2zM531 286h1v1h-1zM543 273h1v1h-1zM558 252h1v1h-1zM535 282h1v1h-1zM907 153h1v1h-1zM1184 153h2v1h-2zM185 364h1v1h-1zM514 301h1v1h-1zM509 307h1v1h-1zM897 161h1v1h-1zM1201 161h2v1h-2zM560 250h1v1h-1zM196 354h1v1h-1zM861 195h1v1h-1zM857 197h2v1h-2zM203 347h1v1h-1zM523 293h1v1h-1zM176 371h1v1h-1zM219 332h1v1h-1zM865 192h1v1h-1zM210 340h1v1h-1zM536 281h1v1h-1zM226 326h1v1h-1zM542 274h1v1h-1zM217 334h1v1h-1zM539 277h1v1h-1zM515 300h1v1h-1zM190 360h1v1h-1zM522 294h1v1h-1zM197 353h1v1h-1zM212 338h1v1h-1zM209 341h1v1h-1zM520 295h2v1h-2zM552 260h1v1h-1zM547 267h1v1h-1zM528 289h1v1h-1zM175 372h1v1h-1zM218 333h1v1h-1zM535 283h1v1h-1zM864 193h1v1h-1zM183 366h1v1h-1zM222 329h1v1h-1zM514 302h1v1h-1zM189 361h1v1h-1zM201 349h1v1h-1zM506 310h1v1h-1zM208 342h1v1h-1zM548 266h1v1h-1zM551 262h1v1h-1zM180 368h1v1h-1zM539 278h1v1h-1z" fill="#ffa500"/><rect x="3" y="56" width="1680" height="2" fill="#32cd32"/><rect x="3" y="106" width="1680" height="2" fill="#4169e1"/><rect x="3" y="183" width="1680" height="2" fill="#4169e1"/><rect x="3" y="259" width="1680" height="2" fill="#4169e1"/><path d="M3 618h1v57h-1zM11 618h1v55h-1zM19 618h1v52h-1zM27 618h1v53h-1zM35 618h1v60h-1zM43 618h1v62h-1zM51 618h1v60h-1zM59 618h1v58h-1zM67 618h1v61h-1zM75 618h1v41h-1zM83 618h1v25h-1zM91 618h1v15h-1zM99 618h1v6h-1zM115 613h1v6h-1zM123 604h1v15h-1zM131 598h1v21h-1zM139 592h1v27h-1zM147 590h1v29h-1zM155 592h1v27h-1zM163 594h1v25h-1zM171 588h1v31h-1zM179 581h1v38h-1zM187 577h1v42h-1zM195 580h1v39h-1zM203 582h1v37h-1zM211 587h1v32h-1zM219 588h1v31h-1zM227 589h1v30h-1zM235 592h1v27h-1zM243 596h1v23h-1zM251 605h1v14h-1zM259 608h1v11h-1zM267 605h1v14h-1zM275 602h1v17h-1zM283 599h1v20h-1zM291 600h1v19h-1zM299 597h1v22h-1zM307 598h1v21h-1zM315 602h1v17h-1zM323 606h1v13h-1zM331 610h1v9h-1zM339 611h1v8h-1zM347 613h1v6h-1zM355 611h1v8h-1zM363 612h1v7h-1zM371 613h1v6h-1zM379 617h1v2h-1zM403 618h1v2h-1zM411 618h1v2h-1zM419 618h1v4h-1zM427 618h1v6h-1zM435 618h1v4h-1zM443 618h1v4h-1zM451 618h1v1h-1zM459 617h1v2h-1zM467 615h1v4h-1zM475 614h1v5h-1zM483 612h1v7h-1zM491 608h1v11h-1zM499 600h1v19h-1zM507 580h1v39h-1zM515 566h1v53h-1zM523 556h1v63h-1zM531 551h1v68h-1zM539 545h1v74h-1zM547 539h1v80h-1zM555 534h1v85h-1zM563 532h1v87h-1zM571 532h1v87h-1zM579 534h1v85h-1zM587 541h1v78h-1zM595 554h1v65h-1zM603 571h1v48h-1zM611 586h1v33h-1zM619 595h1v24h-1zM627 605h1v14h-1zM635 615h1v4h-1zM643 618h1v5h-1zM651 618h1v9h-1zM659 618h1v14h-1zM667 618h1v18h-1zM675 618h1v14h-1zM683 618h1v6h-1zM699 618h1v2h-1zM707 618h1v4h-1zM715 618h1v6h-1zM723 618h1v5h-1zM731 618h1v2h-1zM739 617h1v2h-1zM747 611h1v8h-1zM755 605h1v14h-1zM763 603h1v16h-1zM771 598h1v21h-1zM779 598h1v21h-1zM787 600h1v19h-1zM795 600h1v19h-1zM803 598h1v21h-1zM811 597h1v22h-1zM819 595h1v24h-1zM827 589h1v30h-1zM835 586h1v33h-1zM843 588h1v31h-1zM851 584h1v35h-1zM859 582h1v37h-1zM867 577h1v42h-1zM875 574h1v45h-1zM883 570h1v49h-1zM891 563h1v56h-1zM899 559h1v60h-1zM907 556h1v63h-1zM915 558h1v61h-1zM923 562h1v57h-1zM931 565h1v54h-1zM939 574h1v45h-1zM947 581h1v38h-1zM955 587h1v32h-1zM963 594h1v25h-1zM971 602h1v17h-1zM979 605h1v14h-1zM987 606h1v13h-1zM995 604h1v15h-1zM1003 604h1v15h-1zM1011 603h1v16h-1zM1019 600h1v19h-1zM1027 598h1v21h-1zM1035 597h1v22h-1zM1043 598h1v21h-1zM1051 599h1v20h-1zM1059 601h1v18h-1zM1067 604h1v15h-1zM1075 608h1v11h-1zM1083 618h1v3h-1zM1091 618h1v11h-1zM1099 618h1v18h-1zM1107 618h1v21h-1zM1115 618h1v24h-1zM1123 618h1v24h-1zM1131 618h1v19h-1zM1139 618h1v15h-1zM1147 618h1v12h-1zM1155 618h1v10h-1zM1163 618h1v7h-1zM1171 618h1v6h-1zM1179 618h1v7h-1zM1187 618h1v8h-1zM1195 618h1v9h-1zM1203 618h1v13h-1zM1211 618h1v17h-1zM1219 618h1v17h-1zM1227 618h1v32h-1zM1235 618h1v36h-1zM1243 618h1v37h-1zM1251 618h1v38h-1zM1259 618h1v39h-1zM1267 618h1v35h-1zM1275 618h1v24h-1zM1283 618h1v14h-1zM1291 618h1v8h-1zM1299 618h1v2h-1zM1307 614h1v5h-1zM1315 610h1v9h-1zM1323 596h1v23h-1zM1331 582h1v37h-1z" fill="#c0c0c0"/><path d="M630 563h1v1h-1zM169 599h2v1h-2zM294 599h3v1h-3zM659 599h1v1h-1zM816 599h1v1h-1zM1014 599h1v1h-1zM1018 599h1v1h-1zM1066 599h3v1h-3zM198 586h3v1h-3zM204 586h2v1h-2zM246 586h3v1h-3zM534 586h1v1h-1zM650 586h1v1h-1zM874 586h1v1h-1zM988 586h2v1h-2zM206 585h1v1h-1zM210 585h3v1h-3zM216 585h3v1h-3zM222 585h3v1h-3zM228 585h3v1h-3zM234 585h3v1h-3zM240 585h3v1h-3zM535 585h1v1h-1zM875 585h2v1h-2zM587 540h3v1h-3zM593 540h3v1h-3zM599 540h3v1h-3zM386 612h1v1h-1zM390 612h3v1h-3zM672 612h1v1h-1zM774 612h1v1h-1zM1103 612h2v1h-2zM928 565h3v1h-3zM934 565h1v1h-1zM940 565h3v1h-3zM946 565h3v1h-3zM952 565h3v1h-3zM1270 648h3v1h-3zM1284 648h1v1h-1zM1288 648h2v1h-2zM1152 635h1v1h-1zM1156 635h3v1h-3zM1162 635h3v1h-3zM1314 635h1v1h-1zM540 580h1v1h-1zM645 580h1v1h-1zM887 580h2v1h-2zM978 580h1v1h-1zM288 598h3v1h-3zM522 598h1v1h-1zM658 598h1v1h-1zM820 598h3v1h-3zM826 598h1v1h-1zM1012 598h2v1h-2zM1132 629h2v1h-2zM1193 629h2v1h-2zM1198 629h3v1h-3zM1204 629h3v1h-3zM1210 629h3v1h-3zM1216 629h2v1h-2zM1258 643h1v1h-1zM1301 643h2v1h-2zM144 616h1v1h-1zM494 616h1v1h-1zM677 616h1v1h-1zM1110 616h1v1h-1zM140 620h1v1h-1zM439 620h2v1h-2zM444 620h3v1h-3zM468 620h3v1h-3zM474 620h3v1h-3zM682 620h2v1h-2zM748 620h2v1h-2zM1115 620h2v1h-2zM1331 620h1v1h-1zM551 568h1v1h-1zM635 568h1v1h-1zM916 568h3v1h-3zM959 568h2v1h-2zM565 554h1v1h-1zM156 606h1v1h-1zM366 606h1v1h-1zM511 606h1v1h-1zM666 606h1v1h-1zM1091 606h2v1h-2zM163 602h2v1h-2zM319 602h2v1h-2zM324 602h3v1h-3zM330 602h3v1h-3zM336 602h3v1h-3zM342 602h1v1h-1zM516 602h2v1h-2zM803 602h2v1h-2zM1030 602h3v1h-3zM1036 602h3v1h-3zM1042 602h3v1h-3zM1080 602h1v1h-1zM1084 602h1v1h-1zM133 628h1v1h-1zM140 621h1v1h-1zM450 621h3v1h-3zM456 621h3v1h-3zM462 621h3v1h-3zM684 621h1v1h-1zM742 621h3v1h-3zM1330 621h1v1h-1zM260 592h1v1h-1zM528 592h1v1h-1zM654 592h1v1h-1zM850 592h3v1h-3zM856 592h1v1h-1zM1000 592h1v1h-1zM145 615h1v1h-1zM409 615h2v1h-2zM414 615h3v1h-3zM498 615h1v1h-1zM676 615h1v1h-1zM766 615h3v1h-3zM1108 615h2v1h-2zM193 588h2v1h-2zM253 588h2v1h-2zM651 588h1v1h-1zM868 588h2v1h-2zM27 671h3v1h-3zM82 671h1v1h-1zM1186 631h1v1h-1zM1222 631h3v1h-3zM1319 631h1v1h-1zM52 676h2v1h-2zM57 676h3v1h-3zM63 676h3v1h-3zM302 601h1v1h-1zM306 601h3v1h-3zM312 601h3v1h-3zM318 601h1v1h-1zM518 601h1v1h-1zM808 601h3v1h-3zM1024 601h3v1h-3zM1048 601h3v1h-3zM1078 601h2v1h-2zM95 664h1v1h-1zM646 582h1v1h-1zM882 582h1v1h-1zM982 582h1v1h-1zM175 596h2v1h-2zM271 596h2v1h-2zM276 596h3v1h-3zM524 596h1v1h-1zM833 596h2v1h-2zM1006 596h2v1h-2zM426 618h2v1h-2zM486 618h3v1h-3zM756 618h1v1h-1zM760 618h1v1h-1zM22 670h2v1h-2zM83 670h1v1h-1zM33 672h3v1h-3zM81 672h1v1h-1zM3 666h1v1h-1zM93 666h1v1h-1zM1276 649h3v1h-3zM1282 649h2v1h-2zM541 579h1v1h-1zM977 579h1v1h-1zM910 571h1v1h-1zM965 571h2v1h-2zM117 646h1v1h-1zM1264 646h3v1h-3zM1294 646h2v1h-2zM45 675h3v1h-3zM51 675h1v1h-1zM69 675h3v1h-3zM135 626h1v1h-1zM700 626h3v1h-3zM706 626h3v1h-3zM712 626h3v1h-3zM718 626h3v1h-3zM724 626h3v1h-3zM1126 626h2v1h-2zM1324 626h1v1h-1zM186 591h2v1h-2zM258 591h2v1h-2zM529 591h1v1h-1zM857 591h2v1h-2zM428 619h1v1h-1zM432 619h3v1h-3zM438 619h1v1h-1zM480 619h3v1h-3zM750 619h1v1h-1zM754 619h2v1h-2zM1114 619h1v1h-1zM646 581h1v1h-1zM886 581h1v1h-1zM694 624h2v1h-2zM1122 624h1v1h-1zM1326 624h1v1h-1zM553 566h1v1h-1zM923 566h2v1h-2zM354 604h3v1h-3zM664 604h1v1h-1zM798 604h1v1h-1zM174 597h1v1h-1zM282 597h3v1h-3zM523 597h1v1h-1zM827 597h2v1h-2zM832 597h1v1h-1zM1008 597h1v1h-1zM188 590h1v1h-1zM530 590h1v1h-1zM862 590h2v1h-2zM995 590h2v1h-2zM552 567h1v1h-1zM922 567h1v1h-1zM958 567h1v1h-1zM21 669h1v1h-1zM168 600h1v1h-1zM300 600h2v1h-2zM660 600h1v1h-1zM814 600h2v1h-2zM1019 600h2v1h-2zM1054 600h3v1h-3zM1060 600h3v1h-3zM1072 600h3v1h-3zM689 623h2v1h-2zM736 623h2v1h-2zM1121 623h1v1h-1zM39 674h3v1h-3zM75 674h1v1h-1zM162 603h1v1h-1zM343 603h2v1h-2zM348 603h3v1h-3zM802 603h1v1h-1zM1085 603h2v1h-2zM15 668h3v1h-3zM87 668h3v1h-3zM617 551h2v1h-2zM576 545h2v1h-2zM100 660h2v1h-2zM130 632h1v1h-1zM1138 632h3v1h-3zM1181 632h2v1h-2zM1228 632h3v1h-3zM1318 632h1v1h-1zM631 564h1v1h-1zM935 564h2v1h-2zM1290 647h1v1h-1zM546 574h1v1h-1zM640 574h1v1h-1zM970 574h1v1h-1zM252 587h1v1h-1zM650 587h1v1h-1zM870 587h1v1h-1zM990 587h1v1h-1zM536 584h1v1h-1zM123 640h1v1h-1zM1246 640h2v1h-2zM1306 640h2v1h-2zM420 617h3v1h-3zM492 617h2v1h-2zM678 617h1v1h-1zM761 617h2v1h-2zM563 556h1v1h-1zM623 556h1v1h-1zM150 611h1v1h-1zM380 611h1v1h-1zM384 611h2v1h-2zM504 611h1v1h-1zM671 611h1v1h-1zM778 611h3v1h-3zM1102 611h1v1h-1zM625 558h1v1h-1zM181 593h2v1h-2zM264 593h1v1h-1zM655 593h1v1h-1zM844 593h3v1h-3zM1001 593h1v1h-1zM270 595h1v1h-1zM838 595h1v1h-1zM1240 637h2v1h-2zM1312 637h1v1h-1zM4 667h2v1h-2zM9 667h3v1h-3zM124 638h1v1h-1zM1242 638h1v1h-1zM696 625h1v1h-1zM730 625h3v1h-3zM1325 625h1v1h-1zM151 610h1v1h-1zM378 610h2v1h-2zM505 610h2v1h-2zM670 610h1v1h-1zM784 610h1v1h-1zM1134 630h1v1h-1zM1187 630h2v1h-2zM1192 630h1v1h-1zM1218 630h1v1h-1zM1320 630h1v1h-1zM1252 642h3v1h-3zM548 572h1v1h-1zM906 572h1v1h-1zM624 557h1v1h-1zM129 633h1v1h-1zM1144 633h1v1h-1zM1174 633h3v1h-3zM1180 633h1v1h-1zM1234 633h1v1h-1zM124 639h1v1h-1zM1308 639h1v1h-1zM396 613h3v1h-3zM772 613h2v1h-2zM152 609h1v1h-1zM372 609h3v1h-3zM785 609h2v1h-2zM1098 609h1v1h-1zM612 547h2v1h-2zM157 605h2v1h-2zM360 605h3v1h-3zM512 605h1v1h-1zM665 605h1v1h-1zM796 605h2v1h-2zM1090 605h1v1h-1zM542 578h1v1h-1zM892 578h2v1h-2zM976 578h1v1h-1zM105 657h1v1h-1zM139 622h1v1h-1zM688 622h1v1h-1zM738 622h1v1h-1zM1120 622h1v1h-1zM119 644h1v1h-1zM1259 644h2v1h-2zM1300 644h1v1h-1zM146 614h1v1h-1zM402 614h3v1h-3zM408 614h1v1h-1zM499 614h2v1h-2zM367 607h2v1h-2zM510 607h1v1h-1zM791 607h2v1h-2zM547 573h1v1h-1zM904 573h2v1h-2zM128 634h1v1h-1zM1145 634h2v1h-2zM1150 634h2v1h-2zM1168 634h3v1h-3zM1235 634h2v1h-2zM790 608h1v1h-1zM1096 608h2v1h-2zM76 673h2v1h-2zM641 576h1v1h-1zM898 576h1v1h-1zM972 576h1v1h-1zM112 650h2v1h-2zM99 661h1v1h-1zM581 542h2v1h-2zM605 542h1v1h-1zM641 575h1v1h-1zM899 575h2v1h-2zM971 575h1v1h-1zM619 552h1v1h-1zM880 583h2v1h-2zM983 583h2v1h-2zM180 594h1v1h-1zM265 594h2v1h-2zM656 594h1v1h-1zM839 594h2v1h-2zM1002 594h1v1h-1zM192 589h1v1h-1zM864 589h1v1h-1zM994 589h1v1h-1zM107 655h1v1h-1zM134 627h1v1h-1zM1128 627h1v1h-1zM569 550h1v1h-1zM636 570h1v1h-1zM911 570h2v1h-2zM964 570h1v1h-1zM557 562h1v1h-1zM629 562h1v1h-1zM118 645h1v1h-1zM1296 645h1v1h-1zM94 665h1v1h-1zM575 546h1v1h-1zM611 546h1v1h-1zM607 544h1v1h-1zM583 541h1v1h-1zM606 543h1v1h-1zM564 555h1v1h-1zM571 548h1v1h-1zM636 569h1v1h-1zM559 560h1v1h-1zM894 577h1v1h-1zM1313 636h1v1h-1zM1248 641h1v1h-1zM111 651h1v1h-1zM570 549h1v1h-1zM558 561h1v1h-1zM106 656h1v1h-1z" fill="#ff0000"/><line x1="4" y1="728.5" x2="1683" y2="728.5" stroke="#c0c0c0" stroke-width="1" stroke-dasharray="3 3"/><line x1="4" y1="778.5" x2="1683" y2="778.5" stroke="#c0c0c0" stroke-width="1" stroke-dasharray="3 3"/><path d="M71 757h1v1h-1zM246 757h1v1h-1zM256 757h1v1h-1zM376 757h2v1h-2zM383 757h4v1h-4zM401 757h2v1h-2zM404 757h2v1h-2zM416 757h2v1h-2zM429 757h1v1h-1zM598 757h1v1h-1zM672 757h1v1h-1zM702 757h6v1h-6zM717 757h1v1h-1zM963 757h2v1h-2zM974 757h2v1h-2zM1074 757h2v1h-2zM1125 757h1v1h-1zM1180 757h5v1h-5zM1268 757h1v1h-1zM73 748h1v1h-1zM152 748h1v1h-1zM165 748h1v1h-1zM196 748h8v1h-8zM217 748h2v1h-2zM220 748h9v1h-9zM265 748h1v1h-1zM287 748h2v1h-2zM294 748h1v1h-1zM305 748h2v1h-2zM355 748h1v1h-1zM449 748h1v1h-1zM456 748h11v1h-11zM468 748h4v1h-4zM478 748h3v1h-3zM592 748h1v1h-1zM679 748h1v1h-1zM693 748h1v1h-1zM734 748h3v1h-3zM781 748h2v1h-2zM793 748h2v1h-2zM935 748h1v1h-1zM991 748h2v1h-2zM1000 748h6v1h-6zM1042 748h5v1h-5zM1053 748h2v1h-2zM1273 748h1v1h-1zM499 733h1v1h-1zM582 733h1v1h-1zM879 733h4v1h-4zM911 733h1v1h-1zM1323 733h1v1h-1zM75 743h6v1h-6zM119 743h1v1h-1zM129 743h4v1h-4zM144 743h2v1h-2zM169 743h1v1h-1zM191 743h1v1h-1zM489 743h2v1h-2zM588 743h1v1h-1zM745 743h2v1h-2zM758 743h1v1h-1zM768 743h2v1h-2zM773 743h2v1h-2zM814 743h5v1h-5zM839 743h1v1h-1zM848 743h1v1h-1zM933 743h1v1h-1zM1017 743h2v1h-2zM1028 743h5v1h-5zM1305 743h2v1h-2zM1308 743h2v1h-2zM1317 743h1v1h-1zM74 745h1v1h-1zM85 745h3v1h-3zM116 745h1v1h-1zM148 745h1v1h-1zM167 745h1v1h-1zM193 745h1v1h-1zM271 745h4v1h-4zM276 745h7v1h-7zM298 745h1v1h-1zM300 745h1v1h-1zM485 745h2v1h-2zM589 745h1v1h-1zM682 745h1v1h-1zM684 745h7v1h-7zM741 745h2v1h-2zM761 745h1v1h-1zM765 745h2v1h-2zM776 745h2v1h-2zM803 745h6v1h-6zM841 745h1v1h-1zM845 745h1v1h-1zM934 745h1v1h-1zM1011 745h3v1h-3zM1036 745h2v1h-2zM1276 745h7v1h-7zM1284 745h2v1h-2zM1299 745h3v1h-3zM1313 745h3v1h-3zM72 753h1v1h-1zM243 753h1v1h-1zM260 753h1v1h-1zM315 753h2v1h-2zM336 753h2v1h-2zM342 753h2v1h-2zM349 753h2v1h-2zM364 753h8v1h-8zM411 753h1v1h-1zM433 753h1v1h-1zM440 753h5v1h-5zM595 753h1v1h-1zM674 753h1v1h-1zM697 753h1v1h-1zM723 753h2v1h-2zM938 753h1v1h-1zM945 753h2v1h-2zM956 753h1v1h-1zM981 753h1v1h-1zM1064 753h4v1h-4zM1129 753h1v1h-1zM1148 753h9v1h-9zM1168 753h1v1h-1zM1270 753h1v1h-1zM74 746h1v1h-1zM88 746h28v1h-28zM149 746h1v1h-1zM166 746h1v1h-1zM194 746h1v1h-1zM267 746h4v1h-4zM283 746h2v1h-2zM296 746h2v1h-2zM301 746h2v1h-2zM451 746h1v1h-1zM483 746h2v1h-2zM590 746h1v1h-1zM681 746h1v1h-1zM691 746h1v1h-1zM739 746h2v1h-2zM762 746h3v1h-3zM778 746h2v1h-2zM799 746h4v1h-4zM842 746h1v1h-1zM844 746h1v1h-1zM934 746h1v1h-1zM995 746h1v1h-1zM1009 746h2v1h-2zM1038 746h2v1h-2zM1051 746h1v1h-1zM1275 746h1v1h-1zM1286 746h3v1h-3zM1295 746h4v1h-4zM1315 746h1v1h-1zM139 739h1v1h-1zM174 739h3v1h-3zM188 739h1v1h-1zM494 739h1v1h-1zM585 739h1v1h-1zM824 739h1v1h-1zM836 739h1v1h-1zM852 739h7v1h-7zM919 739h2v1h-2zM1319 739h1v1h-1zM3 764h10v1h-10zM22 764h1v1h-1zM69 764h1v1h-1zM604 764h9v1h-9zM628 764h2v1h-2zM648 764h1v1h-1zM657 764h11v1h-11zM1078 764h1v1h-1zM1106 764h1v1h-1zM1108 764h2v1h-2zM1118 764h1v1h-1zM1202 764h2v1h-2zM1215 764h2v1h-2zM1220 764h1v1h-1zM1240 764h2v1h-2zM1248 764h13v1h-13zM502 727h1v1h-1zM528 727h2v1h-2zM534 727h3v1h-3zM568 727h4v1h-4zM891 727h1v1h-1zM75 742h1v1h-1zM120 742h2v1h-2zM126 742h3v1h-3zM133 742h2v1h-2zM143 742h1v1h-1zM169 742h1v1h-1zM190 742h1v1h-1zM491 742h1v1h-1zM587 742h1v1h-1zM747 742h5v1h-5zM757 742h1v1h-1zM770 742h3v1h-3zM819 742h2v1h-2zM839 742h1v1h-1zM849 742h1v1h-1zM932 742h1v1h-1zM1019 742h9v1h-9zM1307 742h1v1h-1zM1317 742h1v1h-1zM70 758h1v1h-1zM247 758h1v1h-1zM255 758h1v1h-1zM378 758h5v1h-5zM403 758h1v1h-1zM418 758h11v1h-11zM599 758h1v1h-1zM671 758h1v1h-1zM708 758h9v1h-9zM965 758h4v1h-4zM973 758h1v1h-1zM1075 758h1v1h-1zM1124 758h1v1h-1zM1185 758h5v1h-5zM1267 758h1v1h-1zM18 760h2v1h-2zM70 760h1v1h-1zM249 760h1v1h-1zM253 760h1v1h-1zM601 760h1v1h-1zM619 760h2v1h-2zM670 760h1v1h-1zM1076 760h1v1h-1zM1122 760h1v1h-1zM1196 760h1v1h-1zM1264 760h2v1h-2zM73 750h1v1h-1zM154 750h10v1h-10zM206 750h3v1h-3zM213 750h2v1h-2zM236 750h3v1h-3zM263 750h1v1h-1zM291 750h1v1h-1zM308 750h3v1h-3zM353 750h1v1h-1zM358 750h2v1h-2zM447 750h1v1h-1zM593 750h1v1h-1zM677 750h1v1h-1zM694 750h1v1h-1zM729 750h2v1h-2zM784 750h2v1h-2zM789 750h2v1h-2zM936 750h1v1h-1zM986 750h3v1h-3zM1056 750h2v1h-2zM1131 750h1v1h-1zM1161 750h2v1h-2zM1164 750h1v1h-1zM1272 750h1v1h-1zM495 737h1v1h-1zM584 737h1v1h-1zM826 737h9v1h-9zM862 737h3v1h-3zM915 737h2v1h-2zM1320 737h1v1h-1zM73 749h1v1h-1zM153 749h1v1h-1zM164 749h1v1h-1zM204 749h2v1h-2zM215 749h2v1h-2zM229 749h7v1h-7zM264 749h1v1h-1zM289 749h2v1h-2zM292 749h2v1h-2zM307 749h1v1h-1zM354 749h1v1h-1zM356 749h2v1h-2zM448 749h1v1h-1zM472 749h6v1h-6zM592 749h1v1h-1zM678 749h1v1h-1zM694 749h1v1h-1zM731 749h3v1h-3zM783 749h1v1h-1zM791 749h2v1h-2zM936 749h1v1h-1zM989 749h2v1h-2zM1055 749h1v1h-1zM1163 749h1v1h-1zM1273 749h1v1h-1zM504 723h1v1h-1zM518 723h5v1h-5zM550 723h5v1h-5zM556 723h2v1h-2zM177 738h11v1h-11zM495 738h1v1h-1zM585 738h1v1h-1zM825 738h1v1h-1zM835 738h1v1h-1zM859 738h3v1h-3zM917 738h2v1h-2zM1320 738h1v1h-1zM501 729h1v1h-1zM579 729h1v1h-1zM888 729h2v1h-2zM896 729h11v1h-11zM908 729h1v1h-1zM1331 729h1v1h-1zM71 756h1v1h-1zM246 756h1v1h-1zM257 756h1v1h-1zM321 756h12v1h-12zM375 756h1v1h-1zM387 756h4v1h-4zM398 756h3v1h-3zM406 756h2v1h-2zM415 756h1v1h-1zM430 756h1v1h-1zM598 756h1v1h-1zM672 756h1v1h-1zM699 756h3v1h-3zM718 756h2v1h-2zM939 756h2v1h-2zM961 756h2v1h-2zM976 756h1v1h-1zM1072 756h2v1h-2zM1126 756h1v1h-1zM1172 756h8v1h-8zM1268 756h1v1h-1zM74 747h1v1h-1zM150 747h2v1h-2zM166 747h1v1h-1zM195 747h1v1h-1zM219 747h1v1h-1zM266 747h1v1h-1zM285 747h2v1h-2zM295 747h1v1h-1zM303 747h2v1h-2zM450 747h1v1h-1zM452 747h4v1h-4zM467 747h1v1h-1zM481 747h2v1h-2zM591 747h1v1h-1zM680 747h1v1h-1zM692 747h1v1h-1zM737 747h2v1h-2zM780 747h1v1h-1zM795 747h4v1h-4zM843 747h1v1h-1zM935 747h1v1h-1zM993 747h2v1h-2zM996 747h4v1h-4zM1006 747h3v1h-3zM1040 747h2v1h-2zM1047 747h4v1h-4zM1052 747h1v1h-1zM1274 747h1v1h-1zM1289 747h6v1h-6zM23 765h1v1h-1zM51 765h1v1h-1zM68 765h1v1h-1zM630 765h3v1h-3zM646 765h2v1h-2zM1079 765h1v1h-1zM1105 765h1v1h-1zM1110 765h3v1h-3zM1117 765h1v1h-1zM1204 765h2v1h-2zM1214 765h1v1h-1zM1220 765h1v1h-1zM1239 765h1v1h-1zM75 744h1v1h-1zM81 744h4v1h-4zM117 744h2v1h-2zM146 744h2v1h-2zM168 744h1v1h-1zM192 744h1v1h-1zM275 744h1v1h-1zM299 744h1v1h-1zM487 744h2v1h-2zM589 744h1v1h-1zM683 744h1v1h-1zM743 744h2v1h-2zM759 744h2v1h-2zM767 744h1v1h-1zM775 744h1v1h-1zM809 744h5v1h-5zM840 744h1v1h-1zM846 744h2v1h-2zM933 744h1v1h-1zM1014 744h3v1h-3zM1033 744h3v1h-3zM1283 744h1v1h-1zM1302 744h3v1h-3zM1310 744h3v1h-3zM1316 744h1v1h-1zM25 767h1v1h-1zM48 767h2v1h-2zM60 767h2v1h-2zM68 767h1v1h-1zM636 767h7v1h-7zM644 767h1v1h-1zM1080 767h1v1h-1zM1103 767h1v1h-1zM1209 767h4v1h-4zM1221 767h1v1h-1zM1235 767h2v1h-2zM27 770h1v1h-1zM43 770h1v1h-1zM66 770h2v1h-2zM1081 770h1v1h-1zM1088 770h2v1h-2zM1096 770h5v1h-5zM1222 770h1v1h-1zM1234 770h1v1h-1zM72 752h1v1h-1zM240 752h3v1h-3zM261 752h1v1h-1zM312 752h3v1h-3zM338 752h4v1h-4zM351 752h1v1h-1zM362 752h2v1h-2zM434 752h1v1h-1zM436 752h4v1h-4zM445 752h1v1h-1zM595 752h1v1h-1zM675 752h1v1h-1zM696 752h1v1h-1zM725 752h2v1h-2zM937 752h1v1h-1zM947 752h9v1h-9zM982 752h3v1h-3zM1060 752h4v1h-4zM1130 752h1v1h-1zM1140 752h8v1h-8zM1157 752h2v1h-2zM1167 752h1v1h-1zM1271 752h1v1h-1zM1225 777h1v1h-1zM1230 777h1v1h-1zM498 734h1v1h-1zM582 734h1v1h-1zM875 734h4v1h-4zM912 734h1v1h-1zM1322 734h1v1h-1zM71 755h1v1h-1zM245 755h1v1h-1zM258 755h1v1h-1zM319 755h2v1h-2zM333 755h2v1h-2zM346 755h2v1h-2zM373 755h2v1h-2zM391 755h4v1h-4zM396 755h2v1h-2zM408 755h1v1h-1zM413 755h2v1h-2zM431 755h1v1h-1zM597 755h1v1h-1zM673 755h1v1h-1zM698 755h1v1h-1zM720 755h1v1h-1zM939 755h1v1h-1zM941 755h2v1h-2zM959 755h2v1h-2zM977 755h2v1h-2zM1070 755h2v1h-2zM1127 755h1v1h-1zM1170 755h2v1h-2zM1269 755h1v1h-1zM24 766h1v1h-1zM50 766h1v1h-1zM52 766h8v1h-8zM68 766h1v1h-1zM633 766h3v1h-3zM645 766h1v1h-1zM1079 766h1v1h-1zM1104 766h1v1h-1zM1113 766h4v1h-4zM1206 766h3v1h-3zM1213 766h1v1h-1zM1221 766h1v1h-1zM1237 766h2v1h-2zM1226 779h1v1h-1zM1228 779h1v1h-1zM497 735h1v1h-1zM583 735h1v1h-1zM868 735h7v1h-7zM913 735h1v1h-1zM1322 735h1v1h-1zM28 771h2v1h-2zM41 771h2v1h-2zM1082 771h1v1h-1zM1087 771h1v1h-1zM1223 771h1v1h-1zM1233 771h1v1h-1zM73 751h1v1h-1zM209 751h4v1h-4zM239 751h1v1h-1zM262 751h1v1h-1zM311 751h1v1h-1zM352 751h1v1h-1zM360 751h2v1h-2zM435 751h1v1h-1zM446 751h1v1h-1zM594 751h1v1h-1zM676 751h1v1h-1zM695 751h1v1h-1zM727 751h2v1h-2zM786 751h3v1h-3zM937 751h1v1h-1zM985 751h1v1h-1zM1058 751h2v1h-2zM1130 751h1v1h-1zM1132 751h8v1h-8zM1159 751h2v1h-2zM1165 751h2v1h-2zM1272 751h1v1h-1zM13 763h2v1h-2zM22 763h1v1h-1zM69 763h1v1h-1zM603 763h1v1h-1zM613 763h2v1h-2zM625 763h3v1h-3zM649 763h1v1h-1zM654 763h3v1h-3zM668 763h1v1h-1zM1078 763h1v1h-1zM1107 763h1v1h-1zM1119 763h1v1h-1zM1200 763h2v1h-2zM1217 763h1v1h-1zM1220 763h1v1h-1zM1242 763h1v1h-1zM1244 763h4v1h-4zM1261 763h1v1h-1zM507 719h3v1h-3zM506 720h1v1h-1zM510 720h2v1h-2zM30 772h2v1h-2zM39 772h2v1h-2zM1082 772h1v1h-1zM1086 772h1v1h-1zM1223 772h1v1h-1zM1232 772h1v1h-1zM503 726h1v1h-1zM527 726h1v1h-1zM537 726h2v1h-2zM564 726h4v1h-4zM72 754h1v1h-1zM244 754h1v1h-1zM259 754h1v1h-1zM317 754h2v1h-2zM335 754h1v1h-1zM344 754h2v1h-2zM348 754h1v1h-1zM372 754h1v1h-1zM395 754h1v1h-1zM409 754h2v1h-2zM412 754h1v1h-1zM432 754h1v1h-1zM596 754h1v1h-1zM674 754h1v1h-1zM697 754h1v1h-1zM721 754h2v1h-2zM938 754h1v1h-1zM943 754h2v1h-2zM957 754h2v1h-2zM979 754h2v1h-2zM1068 754h2v1h-2zM1128 754h1v1h-1zM1169 754h1v1h-1zM1270 754h1v1h-1zM122 741h4v1h-4zM135 741h2v1h-2zM141 741h2v1h-2zM170 741h1v1h-1zM190 741h1v1h-1zM492 741h1v1h-1zM586 741h1v1h-1zM752 741h5v1h-5zM821 741h1v1h-1zM838 741h1v1h-1zM850 741h1v1h-1zM923 741h3v1h-3zM932 741h1v1h-1zM1318 741h1v1h-1zM1225 776h1v1h-1zM1230 776h1v1h-1zM32 773h2v1h-2zM37 773h2v1h-2zM1083 773h3v1h-3zM1224 773h1v1h-1zM1232 773h1v1h-1zM500 732h1v1h-1zM581 732h1v1h-1zM883 732h2v1h-2zM911 732h1v1h-1zM1324 732h3v1h-3zM137 740h2v1h-2zM140 740h1v1h-1zM171 740h3v1h-3zM189 740h1v1h-1zM493 740h1v1h-1zM586 740h1v1h-1zM822 740h2v1h-2zM837 740h1v1h-1zM851 740h1v1h-1zM921 740h2v1h-2zM926 740h6v1h-6zM1319 740h1v1h-1zM19 759h1v1h-1zM70 759h1v1h-1zM248 759h1v1h-1zM254 759h1v1h-1zM600 759h1v1h-1zM670 759h1v1h-1zM969 759h4v1h-4zM1076 759h1v1h-1zM1123 759h1v1h-1zM1190 759h6v1h-6zM1266 759h1v1h-1zM496 736h1v1h-1zM583 736h1v1h-1zM865 736h3v1h-3zM914 736h1v1h-1zM1321 736h1v1h-1zM505 722h1v1h-1zM514 722h4v1h-4zM555 722h1v1h-1zM16 761h2v1h-2zM20 761h1v1h-1zM70 761h1v1h-1zM250 761h1v1h-1zM252 761h1v1h-1zM601 761h1v1h-1zM617 761h2v1h-2zM621 761h2v1h-2zM669 761h1v1h-1zM1077 761h1v1h-1zM1121 761h1v1h-1zM1197 761h2v1h-2zM1263 761h1v1h-1zM507 718h1v1h-1zM1226 780h1v1h-1zM1228 780h1v1h-1zM503 725h1v1h-1zM525 725h2v1h-2zM539 725h6v1h-6zM561 725h3v1h-3zM15 762h1v1h-1zM21 762h1v1h-1zM69 762h1v1h-1zM251 762h1v1h-1zM602 762h1v1h-1zM615 762h2v1h-2zM623 762h2v1h-2zM650 762h4v1h-4zM668 762h1v1h-1zM1077 762h1v1h-1zM1120 762h1v1h-1zM1199 762h1v1h-1zM1218 762h2v1h-2zM1243 762h1v1h-1zM1262 762h1v1h-1zM502 728h1v1h-1zM530 728h4v1h-4zM572 728h7v1h-7zM890 728h1v1h-1zM892 728h4v1h-4zM907 728h1v1h-1zM506 721h1v1h-1zM512 721h2v1h-2zM504 724h1v1h-1zM523 724h2v1h-2zM545 724h5v1h-5zM558 724h3v1h-3zM25 768h1v1h-1zM46 768h2v1h-2zM62 768h2v1h-2zM68 768h1v1h-1zM643 768h1v1h-1zM1080 768h1v1h-1zM1091 768h1v1h-1zM1102 768h1v1h-1zM1222 768h1v1h-1zM1235 768h1v1h-1zM501 730h1v1h-1zM580 730h1v1h-1zM887 730h1v1h-1zM909 730h1v1h-1zM1328 730h3v1h-3zM26 769h1v1h-1zM44 769h2v1h-2zM64 769h2v1h-2zM67 769h1v1h-1zM1081 769h1v1h-1zM1090 769h1v1h-1zM1092 769h4v1h-4zM1101 769h1v1h-1zM1222 769h1v1h-1zM1234 769h1v1h-1zM34 774h3v1h-3zM1083 774h1v1h-1zM1224 774h1v1h-1zM1231 774h1v1h-1zM1227 781h1v1h-1zM500 731h1v1h-1zM580 731h1v1h-1zM885 731h2v1h-2zM910 731h1v1h-1zM1327 731h1v1h-1zM1224 775h1v1h-1zM1231 775h1v1h-1zM1226 778h1v1h-1zM1229 778h1v1h-1z" fill="#1e90ff"/><rect x="2" y="0" width="1" height="816" fill="#000"/><rect x="1683" y="0" width="1" height="816" fill="#000"/><rect x="2" y="520" width="1682" height="1" fill="#000"/><rect x="2" y="522" width="1682" height="1" fill="#000"/><rect x="2" y="688" width="1682" height="1" fill="#000"/><rect x="2" y="690" width="1682" height="1" fill="#000"/><rect x="2" y="815" width="1682" height="1" fill="#000"/><rect x="2" y="521" width="1682" height="1" fill="#f0f0f0"/><rect x="2" y="689" width="1682" height="1" fill="#f0f0f0"/><rect x="1729" y="0" width="1" height="835" fill="#e3e3e3"/><rect x="3" y="816" width="1" height="3" fill="#000"/><rect x="67" y="816" width="1" height="3" fill="#000"/><rect x="131" y="816" width="1" height="3" fill="#000"/><rect x="195" y="816" width="1" height="3" fill="#000"/><rect x="259" y="816" width="1" height="3" fill="#000"/><rect x="323" y="816" width="1" height="3" fill="#000"/><rect x="387" y="816" width="1" height="3" fill="#000"/><rect x="451" y="816" width="1" height="3" fill="#000"/><rect x="515" y="816" width="1" height="3" fill="#000"/><rect x="579" y="816" width="1" height="3" fill="#000"/><rect x="643" y="816" width="1" height="3" fill="#000"/><rect x="707" y="816" width="1" height="3" fill="#000"/><rect x="771" y="816" width="1" height="3" fill="#000"/><rect x="835" y="816" width="1" height="3" fill="#000"/><rect x="899" y="816" width="1" height="3" fill="#000"/><rect x="963" y="816" width="1" height="3" fill="#000"/><rect x="1027" y="816" width="1" height="3" fill="#000"/><rect x="1091" y="816" width="1" height="3" fill="#000"/><rect x="1155" y="816" width="1" height="3" fill="#000"/><rect x="1219" y="816" width="1" height="3" fill="#000"/><rect x="1283" y="816" width="1" height="3" fill="#000"/><rect x="1684" y="517" width="2" height="1" fill="#000"/><rect x="1684" y="484" width="2" height="1" fill="#000"/><rect x="1684" y="451" width="2" height="1" fill="#000"/><rect x="1684" y="418" width="2" height="1" fill="#000"/><rect x="1684" y="385" width="2" height="1" fill="#000"/><rect x="1684" y="352" width="2" height="1" fill="#000"/><rect x="1684" y="319" width="2" height="1" fill="#000"/><rect x="1684" y="286" width="2" height="1" fill="#000"/><rect x="1684" y="253" width="2" height="1" fill="#000"/><rect x="1684" y="220" width="2" height="1" fill="#000"/><rect x="1684" y="187" width="2" height="1" fill="#000"/><rect x="1684" y="154" width="2" height="1" fill="#000"/><rect x="1684" y="121" width="2" height="1" fill="#000"/><rect x="1684" y="88" width="2" height="1" fill="#000"/><rect x="1684" y="55" width="2" height="1" fill="#000"/><rect x="1684" y="22" width="2" height="1" fill="#000"/><rect x="1684" y="524" width="1" height="1" fill="#000"/><rect x="1684" y="618" width="1" height="1" fill="#000"/><rect x="1684" y="687" width="1" height="1" fill="#000"/><rect x="1684" y="692" width="1" height="1" fill="#000"/><rect x="1684" y="814" width="1" height="1" fill="#000"/><path d="M6 6h7l-3.5 4z" fill="#000" shape-rendering="auto"/><path d="M1341 0h9.5l-4.75 5z" fill="#778899" shape-rendering="auto"/></svg>
<div class="t" style="left:17.5px;top:2px;letter-spacing:-0.35px">XAUUSD-,H4</div>
<div class="t" style="left:81px;top:2px;word-spacing:1.6px">1809.83 1816.24 1807.70 1815.58</div>
<div class="t" style="left:7px;top:526px;letter-spacing:-0.35px">MACD(12,26,9)</div>
<div class="t" style="left:76px;top:526px;">4.466 -0.058</div>
<div class="t" style="left:7px;top:694px;letter-spacing:-0.35px">RSI(14)</div>
<div class="t" style="left:42px;top:694px;">69.4349</div>
<div class="t" style="left:1689.5px;top:512px;">1719.55</div>
<div class="t" style="left:1689.5px;top:479px;">1726.00</div>
<div class="t" style="left:1689.5px;top:446px;">1732.60</div>
<div class="t" style="left:1689.5px;top:413px;">1739.05</div>
<div class="t" style="left:1689.5px;top:380px;">1745.50</div>
<div class="t" style="left:1689.5px;top:347px;">1751.95</div>
<div class="t" style="left:1689.5px;top:314px;">1758.40</div>
<div class="t" style="left:1689.5px;top:281px;">1764.85</div>
<div class="t" style="left:1689.5px;top:248px;">1771.45</div>
<div class="t" style="left:1689.5px;top:215px;">1777.90</div>
<div class="t" style="left:1689.5px;top:182px;">1784.35</div>
<div class="t" style="left:1689.5px;top:149px;">1790.80</div>
<div class="t" style="left:1689.5px;top:116px;">1797.25</div>
<div class="t" style="left:1689.5px;top:83px;">1803.85</div>
<div class="t" style="left:1689.5px;top:50px;">1810.30</div>
<div class="t" style="left:1689.5px;top:17px;">1816.75</div>
<div class="t" style="left:1687px;top:524px;">11.295</div>
<div class="t" style="left:1687px;top:613px;">0.00</div>
<div class="t" style="left:1687px;top:676px;">-8.221</div>
<div class="t" style="left:1687px;top:692px;">100</div>
<div class="t" style="left:1687px;top:723px;">70</div>
<div class="t" style="left:1687px;top:773px;">30</div>
<div class="t" style="left:1687px;top:803px;">0</div>
<div class="lb" style="top:23px;background:#000"><span>1815.58</span></div>
<div class="lb" style="top:51px;background:#32cd32"><span>1810.00</span></div>
<div class="lb" style="top:101px;background:#4169e1"><span>1800.00</span></div>
<div class="lb" style="top:178px;background:#4169e1"><span>1785.00</span></div>
<div class="lb" style="top:254px;background:#4169e1"><span>1770.00</span></div>
<div class="t" style="left:2px;top:819px;word-spacing:0.6px">29 Sep 2021</div>
<div class="t" style="left:66px;top:819px;word-spacing:0.6px">30 Sep 08:00</div>
<div class="t" style="left:130px;top:819px;">1 Oct 16:00</div>
<div class="t" style="left:194px;top:819px;">5 Oct 00:00</div>
<div class="t" style="left:258px;top:819px;">6 Oct 08:00</div>
<div class="t" style="left:322px;top:819px;">7 Oct 16:00</div>
<div class="t" style="left:386px;top:819px;">11 Oct 00:00</div>
<div class="t" style="left:450px;top:819px;">12 Oct 08:00</div>
<div class="t" style="left:514px;top:819px;">13 Oct 16:00</div>
<div class="t" style="left:578px;top:819px;">15 Oct 00:00</div>
<div class="t" style="left:642px;top:819px;">18 Oct 08:00</div>
<div class="t" style="left:706px;top:819px;">19 Oct 16:00</div>
<div class="t" style="left:770px;top:819px;">21 Oct 00:00</div>
<div class="t" style="left:834px;top:819px;">22 Oct 08:00</div>
<div class="t" style="left:898px;top:819px;">25 Oct 16:00</div>
<div class="t" style="left:962px;top:819px;">27 Oct 00:00</div>
<div class="t" style="left:1026px;top:819px;">28 Oct 08:00</div>
<div class="t" style="left:1090px;top:819px;">29 Oct 16:00</div>
<div class="t" style="left:1154px;top:819px;">2 Nov 00:00</div>
<div class="t" style="left:1218px;top:819px;">3 Nov 08:00</div>
<div class="t" style="left:1282px;top:819px;">4 Nov 16:00</div>
<svg width="1731" height="835" viewBox="0 0 1731 835" style="position:absolute;left:0;top:0" fill="none" stroke="#e60a12"><path transform="translate(1250 365) scale(0.05391)" stroke-width="50" d="M355 100 L230 210 L100 300 M300 185 L625 185 L560 260 L430 340 L280 400 L70 455 M255 275 L340 345 M470 365 L380 450 L250 530 L110 590 M410 435 L660 435 L590 520 L480 600 L350 660 L220 700 L85 725 M330 550 L400 625 M1010 110 L1060 175 M770 175 L770 310 M745 200 L1335 200 M1308 175 L1308 310 M970 280 L860 370 L735 435 M1110 280 L1230 360 L1345 440 M810 465 L1270 465 M1040 465 L1040 680 M745 680 L1335 680"/><path transform="translate(1320 365) scale(0.05391)" stroke-width="50" d="M95 220 L365 220 M235 100 L115 440 L365 440 M255 290 L255 740 M90 595 L380 550 M395 220 L705 220 M365 350 L735 350 M530 100 L435 485 L700 485 L560 660 M415 575 L640 720 M765 255 L980 255 M875 105 L875 640 L860 690 L770 695 M755 470 L965 405 M1375 150 L1040 178 M1045 165 L1045 440 L1020 580 L955 725 M1045 375 L1395 375 M1255 375 L1255 740"/><path transform="translate(1390 365) scale(0.05391)" stroke-width="50" d="M435 95 L435 325 M435 195 L760 195 M230 300 L230 550 M205 325 L695 325 M670 300 L670 550 M230 495 L670 495 M230 590 L145 720 M340 580 L385 715 M500 570 L550 710 M660 585 L740 720"/><g transform="translate(1440 365) scale(0.05391)" stroke-width="60"><path d="M68 140 V650 M88 150 L-82 250 M850 140 V650 M870 150 L700 250"/><ellipse cx="437" cy="270" rx="115" ry="105"/><ellipse cx="437" cy="510" rx="135" ry="122"/><ellipse cx="1215" cy="400" rx="145" ry="235"/></g></svg>
</body></html>
